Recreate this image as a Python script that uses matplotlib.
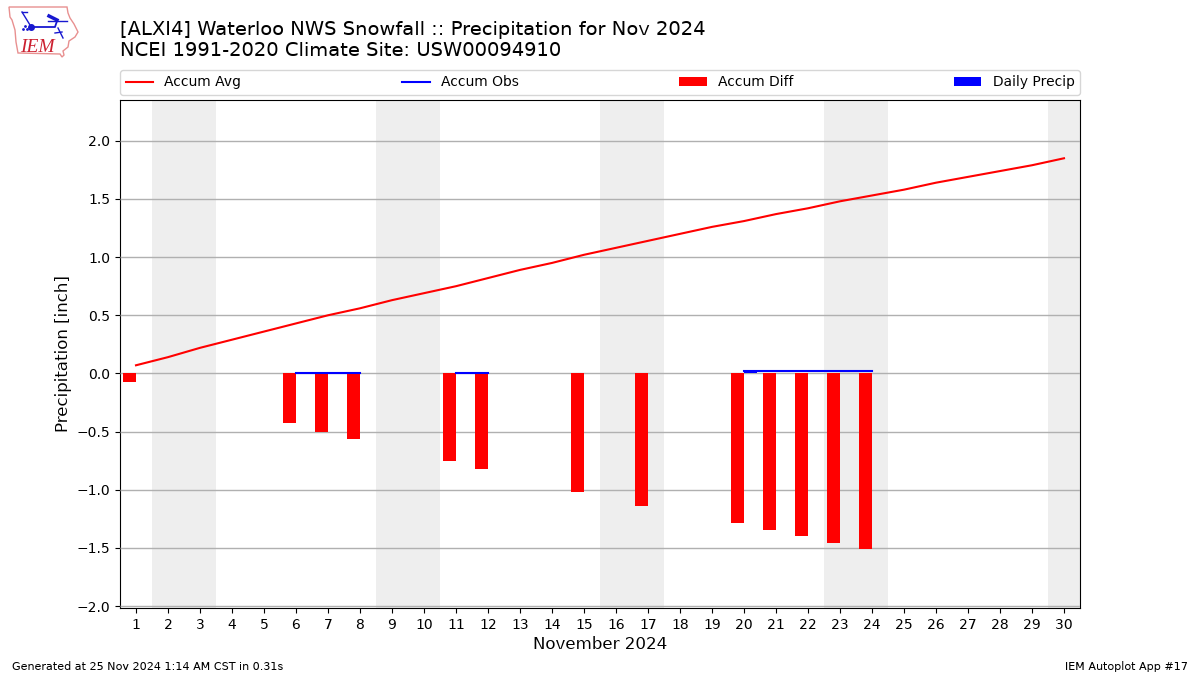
#!/usr/bin/env python3
import matplotlib
matplotlib.use("Agg")
import matplotlib.pyplot as plt
from matplotlib.patches import Polygon

plt.rcParams["text.hinting"] = "no_autohint"

days = list(range(1, 31))
accum_avg = [0.07, 0.14, 0.22, 0.29, 0.36, 0.43, 0.50, 0.56, 0.63, 0.69,
             0.75, 0.82, 0.89, 0.95, 1.02, 1.08, 1.14, 1.20, 1.26, 1.31,
             1.37, 1.42, 1.48, 1.53, 1.58, 1.64, 1.69, 1.74, 1.79, 1.85]
nan = float("nan")
# obs only shown for the runs of days that have a reading
accum_obs = [nan, nan, nan, nan, nan, 0.0, 0.0, 0.0, nan, nan,
             0.0, 0.0, nan, nan, nan, nan, nan, nan, nan, 0.02,
             0.02, 0.02, 0.02, 0.02, nan, nan, nan, nan, nan, nan]
diff_days = [1, 6, 7, 8, 11, 12, 15, 17, 20, 21, 22, 23, 24]
accum_diff = [-0.07, -0.43, -0.50, -0.56, -0.75, -0.82, -1.02, -1.14,
              -1.29, -1.35, -1.40, -1.46, -1.51]
precip_days = [6, 7, 8, 11, 12, 20]
daily_precip = [0.0, 0.0, 0.0, 0.0, 0.0, 0.01]
weekends = [(1.5, 3.5), (8.5, 10.5), (15.5, 17.5), (22.5, 24.5), (29.5, 30.5)]

W, H = 1200.0, 675.0

fig = plt.figure(figsize=(12, 6.75), dpi=100)
ax = fig.add_axes([120 / W, 1 - 608 / H, 960 / W, 508 / H])

for start, end in weekends:
    ax.axvspan(start, end, color="#eeeeee", lw=0, zorder=1)
ax.grid(True, axis="y", color="#b0b0b0", lw=1, zorder=2)
ax.set_axisbelow(False)

ax.plot(days, accum_avg, color="r", lw=1.5, label="Accum Avg", zorder=4)
ax.plot(days, accum_obs, color="b", lw=1.5, label="Accum Obs", zorder=4)
ax.bar(diff_days, accum_diff, width=-0.4, align="edge", color="r",
       label="Accum Diff", zorder=3)
ax.bar(precip_days, daily_precip, width=0.4, align="edge", color="b",
       label="Daily Precip", zorder=3)

ax.set_xlim(0.5, 30.5)
ax.set_ylim(-2.017, 2.351)
ax.set_xticks(days)
ax.set_yticks([-2.0, -1.5, -1.0, -0.5, 0.0, 0.5, 1.0, 1.5, 2.0])
ax.set_xlabel("November 2024", fontsize=12, labelpad=3)
ax.set_ylabel("Precipitation [inch]", fontsize=12, labelpad=3)
ax.legend(loc="lower left", bbox_to_anchor=(0, 1.01, 1, 0.05), ncol=4,
          mode="expand", borderaxespad=0, fontsize=10)

fig.text(119.5 / W, 1 - 60 / H,
         "[ALXI4] Waterloo NWS Snowfall :: Precipitation for Nov 2024\n"
         "NCEI 1991-2020 Climate Site: USW00094910",
         fontsize=14, ha="left", va="bottom")
fig.text(12 / W, 1 - 670 / H, "Generated at 25 Nov 2024 1:14 AM CST in 0.31s",
         fontsize=8, ha="left", va="baseline")
fig.text(1188 / W, 1 - 670 / H, "IEM Autoplot App #17",
         fontsize=8, ha="right", va="baseline")

# logo, drawn in pixel coordinates
logo = fig.add_axes([0, 1 - 60 / H, 85 / W, 60 / H])
logo.set_xlim(0, 85)
logo.set_ylim(60, 0)
logo.axis("off")
outline = [(9, 7), (67, 7), (68, 13), (70, 18), (74, 24), (78, 32), (75, 37),
           (69, 41), (68, 47), (63, 51), (64, 55), (62, 57), (60, 54), (18, 53),
           (16, 42), (15, 30), (12, 20), (10, 17)]
logo.add_patch(Polygon(outline, closed=True, fill=False, ec="#e89090", lw=1))
blue = "#1818d0"
logo.plot([31, 55, 57], [27, 27, 21], color=blue, lw=1.3)
logo.plot([48, 67], [21, 21], color=blue, lw=1)
logo.plot([22, 30], [12, 25], color=blue, lw=1)
logo.plot([22, 27], [12, 12], color=blue, lw=1)
logo.plot([31], [27], "o", color=blue, ms=4)
logo.plot([49, 57], [16, 20], color=blue, lw=2.5)
logo.plot([58, 63], [28, 38], color=blue, lw=1)
logo.plot([55, 62], [33, 32], color=blue, lw=1)
logo.plot([23, 25, 27], [29, 26, 29], ".", color=blue, ms=2)
logo.text(20, 52, "IEM", color="#cc2030", fontsize=14, style="italic",
          family="Liberation Serif", ha="left", va="baseline")

plt.savefig("out.png", dpi=100)
